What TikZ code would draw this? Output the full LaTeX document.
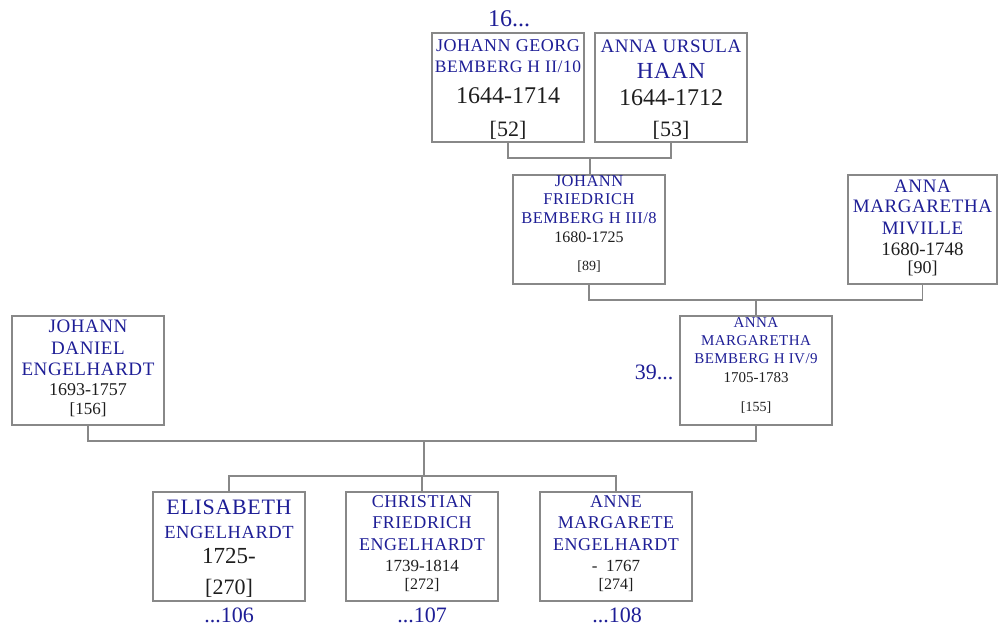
\documentclass[tikz,border=0pt]{standalone}
\usepackage{fontspec}
\setmainfont{Liberation Serif}
\newfontfamily\nmfont[LetterSpace=3]{Liberation Serif}
\definecolor{nb}{RGB}{30,30,150}
\definecolor{dk}{RGB}{30,30,30}
\definecolor{ln}{RGB}{136,136,136}
\tikzset{
 pbox/.style={draw=ln, line width=1.2pt, minimum width=152pt, minimum height=109pt, inner sep=0pt},
 conn/.style={draw=ln, line width=1.2pt},
}
\newcommand\boxline[6]{\node[anchor=base, inner sep=0pt, text=#5, font=\fontsize{#4}{#4}\selectfont] (#1) at (#2, {#3+0.33*#4}) {#6};}
\newcommand\nmline[5]{\boxline{#1}{#2}{#3}{#4}{nb}{\nmfont #5}}
\begin{document}
\begin{tikzpicture}[x=1pt,y=-1pt]
\useasboundingbox (0,0) rectangle (998,628);
% boxes
\node[pbox] (jg) at (508,87.5) {};
\node[pbox] (au) at (671,87.5) {};
\node[pbox] (jf) at (589,229.5) {};
\node[pbox, minimum width=149pt] (amm) at (922.5,229.5) {};
\node[pbox] (jd) at (88,370.5) {};
\node[pbox] (amb) at (756,370.5) {};
\node[pbox] (el) at (229,546.5) {};
\node[pbox] (cf) at (422,546.5) {};
\node[pbox] (am) at (616,546.5) {};
% connectors
\coordinate (m1) at (590,158);
\draw[conn] (jg.south) |- (m1) -| (au.south);
\draw[conn] (m1) -- (m1 |- jf.north);
\coordinate (m2) at (756,300);
\draw[conn] (jf.south) |- (m2) -| (amm.south);
\draw[conn] (m2) -- (amb.north);
\coordinate (m3) at (424,441);
\draw[conn] (jd.south) |- (m3) -| (amb.south);
\coordinate (m4) at (424,476);
\draw[conn] (m3) -- (m4);
\draw[conn] (el.north) |- (m4) -| (am.north);
\draw[conn] (cf.north) -- (cf.north |- m4);
% JG
\nmline{jg1}{508}{46}{18}{JOHANN GEORG}
\nmline{jg2}{508}{67}{17.5}{BEMBERG H II/10}
\boxline{jg3}{508}{96}{24}{dk}{1644-1714}
\boxline{jg4}{508}{129}{22}{dk}{[52]}
% AU
\nmline{au1}{671}{46}{19}{ANNA URSULA}
\nmline{au2}{671}{71}{23}{HAAN}
\boxline{au3}{671}{98}{24}{dk}{1644-1712}
\boxline{au4}{671}{129}{22}{dk}{[53]}
% JF
\nmline{jf1}{589}{181}{16.5}{JOHANN}
\nmline{jf2}{589}{199}{16.5}{FRIEDRICH}
\nmline{jf3}{589}{218}{16.5}{BEMBERG H III/8}
\boxline{jf4}{589}{237}{16}{dk}{1680-1725}
\boxline{jf5}{589}{266}{14}{dk}{[89]}
% AMM
\nmline{amm1}{922.5}{186}{19}{ANNA}
\nmline{amm2}{922.5}{206}{19}{MARGARETHA}
\nmline{amm3}{922.5}{228}{19}{MIVILLE}
\boxline{amm4}{922.5}{249}{19}{dk}{1680-1748}
\boxline{amm5}{922.5}{268}{18}{dk}{[90]}
% JD
\nmline{jd1}{88}{326}{19}{JOHANN}
\nmline{jd2}{88}{348}{19}{DANIEL}
\nmline{jd3}{88}{369}{19}{ENGELHARDT}
\boxline{jd4}{88}{390}{18}{dk}{1693-1757}
\boxline{jd5}{88}{409}{17}{dk}{[156]}
% AMB
\nmline{amb1}{756}{323}{15}{ANNA}
\nmline{amb2}{756}{341}{15}{MARGARETHA}
\nmline{amb3}{756}{359}{15}{BEMBERG H IV/9}
\boxline{amb4}{756}{378}{15}{dk}{1705-1783}
\boxline{amb5}{756}{407}{14}{dk}{[155]}
% EL
\nmline{el1}{229}{507}{22}{ELISABETH}
\nmline{el2}{229}{532}{18.5}{ENGELHARDT}
\boxline{el3}{229}{556}{23}{dk}{1725-}
\boxline{el4}{229}{587}{22}{dk}{[270]}
% CF
\nmline{cf1}{422}{502}{18}{CHRISTIAN}
\nmline{cf2}{422}{523}{18}{FRIEDRICH}
\nmline{cf3}{422}{545}{18}{ENGELHARDT}
\boxline{cf4}{422}{566}{17}{dk}{1739-1814}
\boxline{cf5}{422}{584}{16}{dk}{[272]}
% AM
\nmline{am1}{616}{502}{18}{ANNE}
\nmline{am2}{616}{523}{18}{MARGARETE}
\nmline{am3}{616}{545}{18}{ENGELHARDT}
\boxline{am4}{616}{566}{17}{dk}{-\ \ 1767}
\boxline{am5}{616}{584}{16}{dk}{[274]}
% references
\boxline{r16}{509}{19}{24}{nb}{16...}
\boxline{r39}{654}{372}{22}{nb}{39...}
\boxline{r106}{229}{615}{22}{nb}{...106}
\boxline{r107}{422}{615}{22}{nb}{...107}
\boxline{r108}{617}{615}{22}{nb}{...108}
\end{tikzpicture}
\end{document}
